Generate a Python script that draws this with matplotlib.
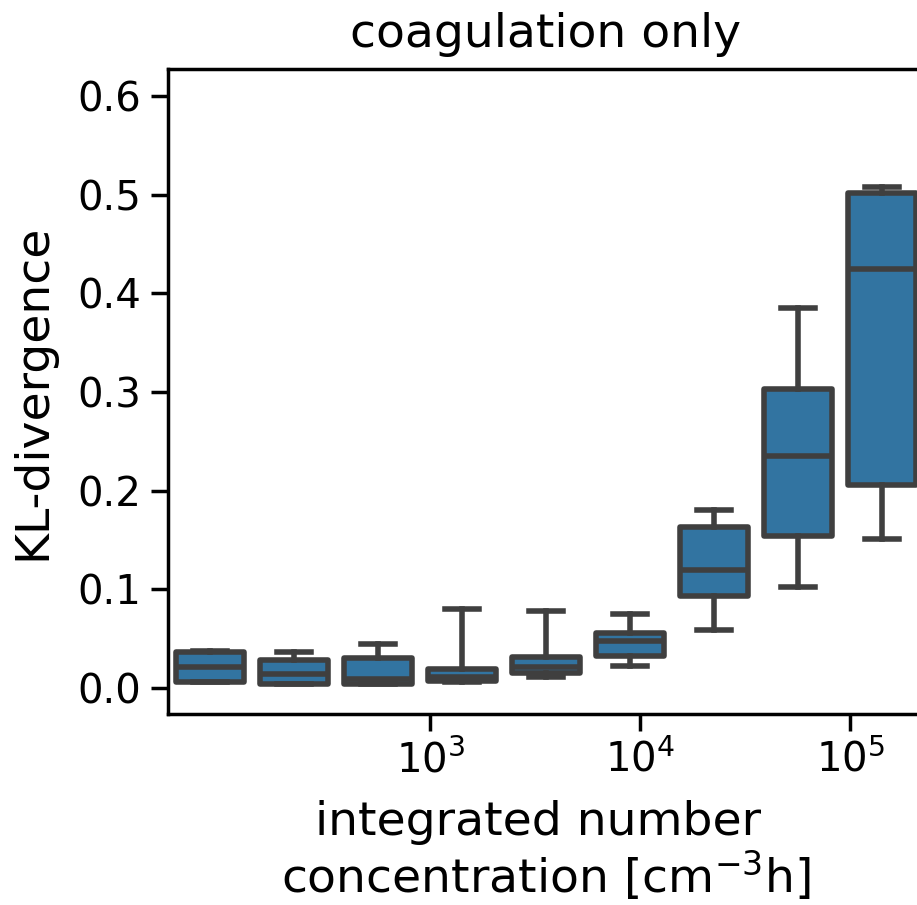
"""KL-divergence vs integrated number concentration (coagulation only)."""

import matplotlib
matplotlib.use("Agg")
import matplotlib.pyplot as plt
import numpy as np

# box statistics, one entry per concentration bin
whislo = [0.006, 0.004, 0.004, 0.006, 0.0108, 0.0223, 0.0588, 0.1027, 0.151]
q1 = [0.0064, 0.004, 0.004, 0.0068, 0.0155, 0.0324, 0.0936, 0.154, 0.206]
med = [0.0216, 0.0145, 0.0088, 0.0108, 0.021, 0.048, 0.1196, 0.2355, 0.425]
q3 = [0.0362, 0.0287, 0.0301, 0.0196, 0.0318, 0.0557, 0.1635, 0.303, 0.5013]
whishi = [0.037, 0.0368, 0.0446, 0.0804, 0.0784, 0.075, 0.180, 0.385, 0.5075]

# log10 of bin centres, used to place the decade ticks on the categorical axis
bin_log_centres = [1.95, 2.35, 2.75, 3.15, 3.55, 3.95, 4.35, 4.75, 5.15]
tick_exponents = [3, 4, 5]

FILL = "#3274a1"
GRAY = "#3f3f3f"

stats = [
    dict(whislo=a, q1=b, med=c, q3=d, whishi=e, fliers=[])
    for a, b, c, d, e in zip(whislo, q1, med, q3, whishi)
]

fig = plt.figure(figsize=(9.17, 9.05), dpi=100)
ax = fig.add_axes([0.1832, 0.2110, 0.8244, 0.7128])

pos = np.arange(len(stats))
ax.bxp(
    stats,
    positions=pos,
    widths=0.8,
    patch_artist=True,
    showfliers=False,
    boxprops=dict(facecolor=FILL, edgecolor=GRAY, linewidth=4, joinstyle="round"),
    medianprops=dict(color=GRAY, linewidth=4),
    whiskerprops=dict(color=GRAY, linewidth=4),
    capprops=dict(color=GRAY, linewidth=4),
)

ax.set_xlim(-0.5, len(stats) - 0.5)
ax.set_ylim(-0.0264, 0.6273)
ax.set_yticks([0.0, 0.1, 0.2, 0.3, 0.4, 0.5, 0.6])

tick_pos = np.interp(tick_exponents, bin_log_centres, pos)
ax.set_xticks(tick_pos)
ax.set_xticklabels([f"$10^{{{e}}}$" for e in tick_exponents])

ax.tick_params(axis="both", length=12, width=2.5, pad=7, labelsize=29)
for sp in ax.spines.values():
    sp.set_linewidth(2.5)

ax.set_title("coagulation only", fontsize=34, pad=16)
ax.set_ylabel("KL-divergence", fontsize=34, labelpad=16)
ax.set_xlabel("integrated number \nconcentration [cm$^{-3}$h]", fontsize=34,
              labelpad=13, linespacing=1.1)

fig.savefig("out.png", dpi=100)
plt.close(fig)
